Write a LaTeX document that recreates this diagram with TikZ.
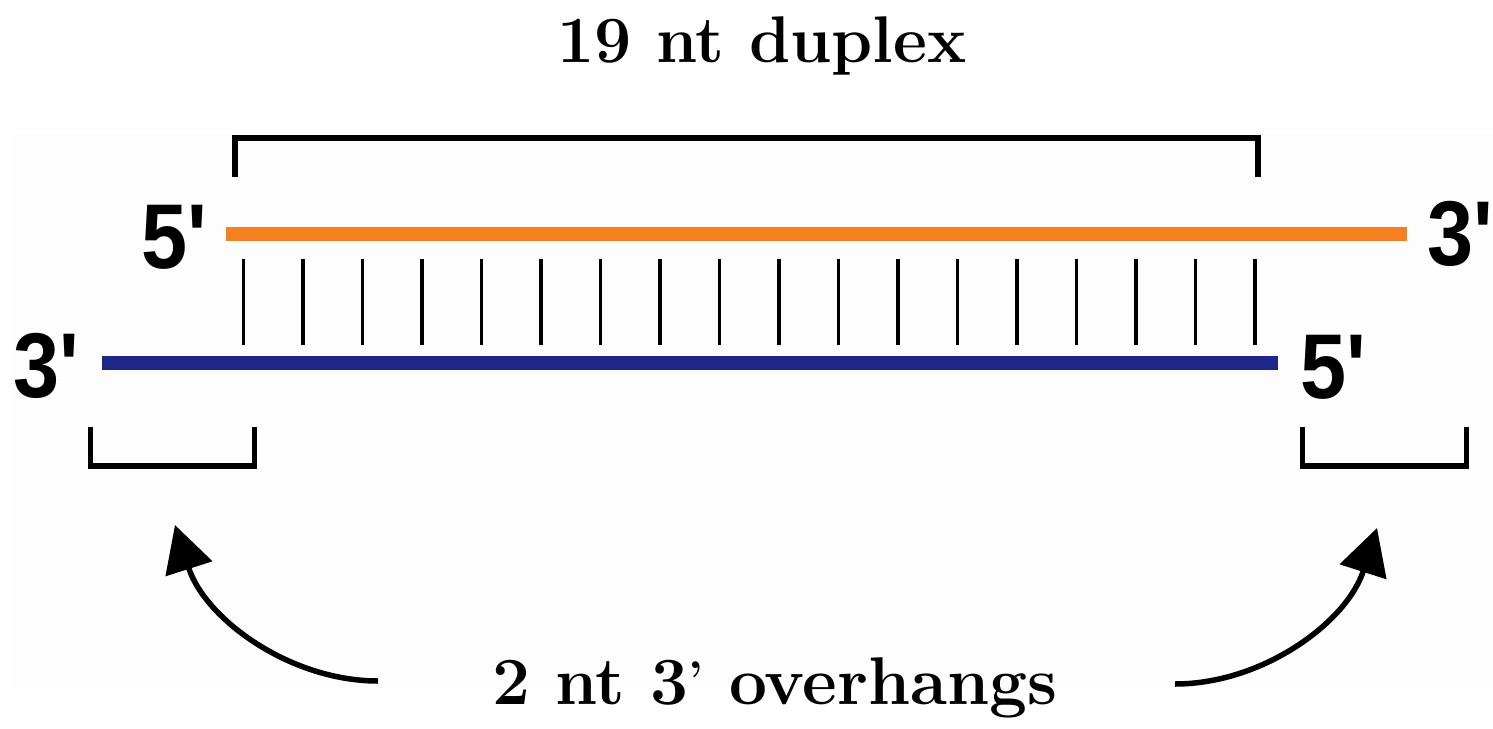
\documentclass[tikz,border=0pt]{standalone}
\usepackage{fontspec}
\newfontfamily\labelfont{Liberation Sans}
\usetikzlibrary{arrows.meta}
\definecolor{strandorange}{RGB}{245,128,32}
\definecolor{strandblue}{RGB}{30,38,135}
\definecolor{panelbg}{RGB}{253,253,253}
\begin{document}
\begin{tikzpicture}[x=1pt,y=-1pt,
  strand/.style={line width=14pt},
  bracketline/.style={line width=5.5pt, line join=miter},
  pairline/.style={line width=3.5pt},
  endlabel/.style={font=\labelfont\bfseries\fontsize{92}{92}\selectfont, inner sep=0pt, anchor=base west, xscale=0.9},
  titletext/.style={font=\bfseries\fontsize{66}{72}\selectfont, inner sep=0pt, anchor=base},
  curvedarrow/.style={line width=5.5pt, -{Triangle[length=46pt,width=48pt]}}]
\useasboundingbox (0,0) rectangle (1493,728);
\fill[panelbg] (13,134) rectangle (1493,689);

% titles
\node[titletext] (duplex) at (762,62) {19 nt duplex};
\node[titletext, font=\bfseries\fontsize{67.5}{72}\selectfont] (overhang) at (775,704) {2 nt 3\textsuperscript{’} overhangs};

% top bracket
\draw[bracketline] (235,177) -- (235,138) -- (1258,138) -- (1258,177);

% strands
\coordinate (o1) at (226,234); \coordinate (o2) at (1407,234);
\coordinate (b1) at (102,363); \coordinate (b2) at (1278,363);
\draw[strand, strandorange] (o1) -- (o2);
\draw[strand, strandblue] (b1) -- (b2);

% base pairs
\foreach \i in {0,...,17}
  \draw[pairline] ({243.5+\i*59.5},259) -- ++(0,86);

% end labels
\node[endlabel] (l5) at (141,268) {5'};
\node[endlabel] (r3) at (1427,265) {3'};
\node[endlabel] (l3) at (13,397) {3'};
\node[endlabel] (r5) at (1300,398) {5'};

% overhang brackets
\draw[bracketline] (90.5,427) -- (90.5,466) -- (254.5,466) -- (254.5,427);
\draw[bracketline] (1302.5,427) -- (1302.5,466) -- (1466.5,466) -- (1466.5,427);

% arrows
\coordinate (la0) at (378,681); \coordinate (la1) at (175,525);
\coordinate (ra0) at (1175,684); \coordinate (ra1) at (1377,528);
\draw[curvedarrow] (la0) .. controls (290,681) and (205,619) .. (la1);
\draw[curvedarrow] (ra0) .. controls (1263,684) and (1347,622) .. (ra1);
\end{tikzpicture}
\end{document}
